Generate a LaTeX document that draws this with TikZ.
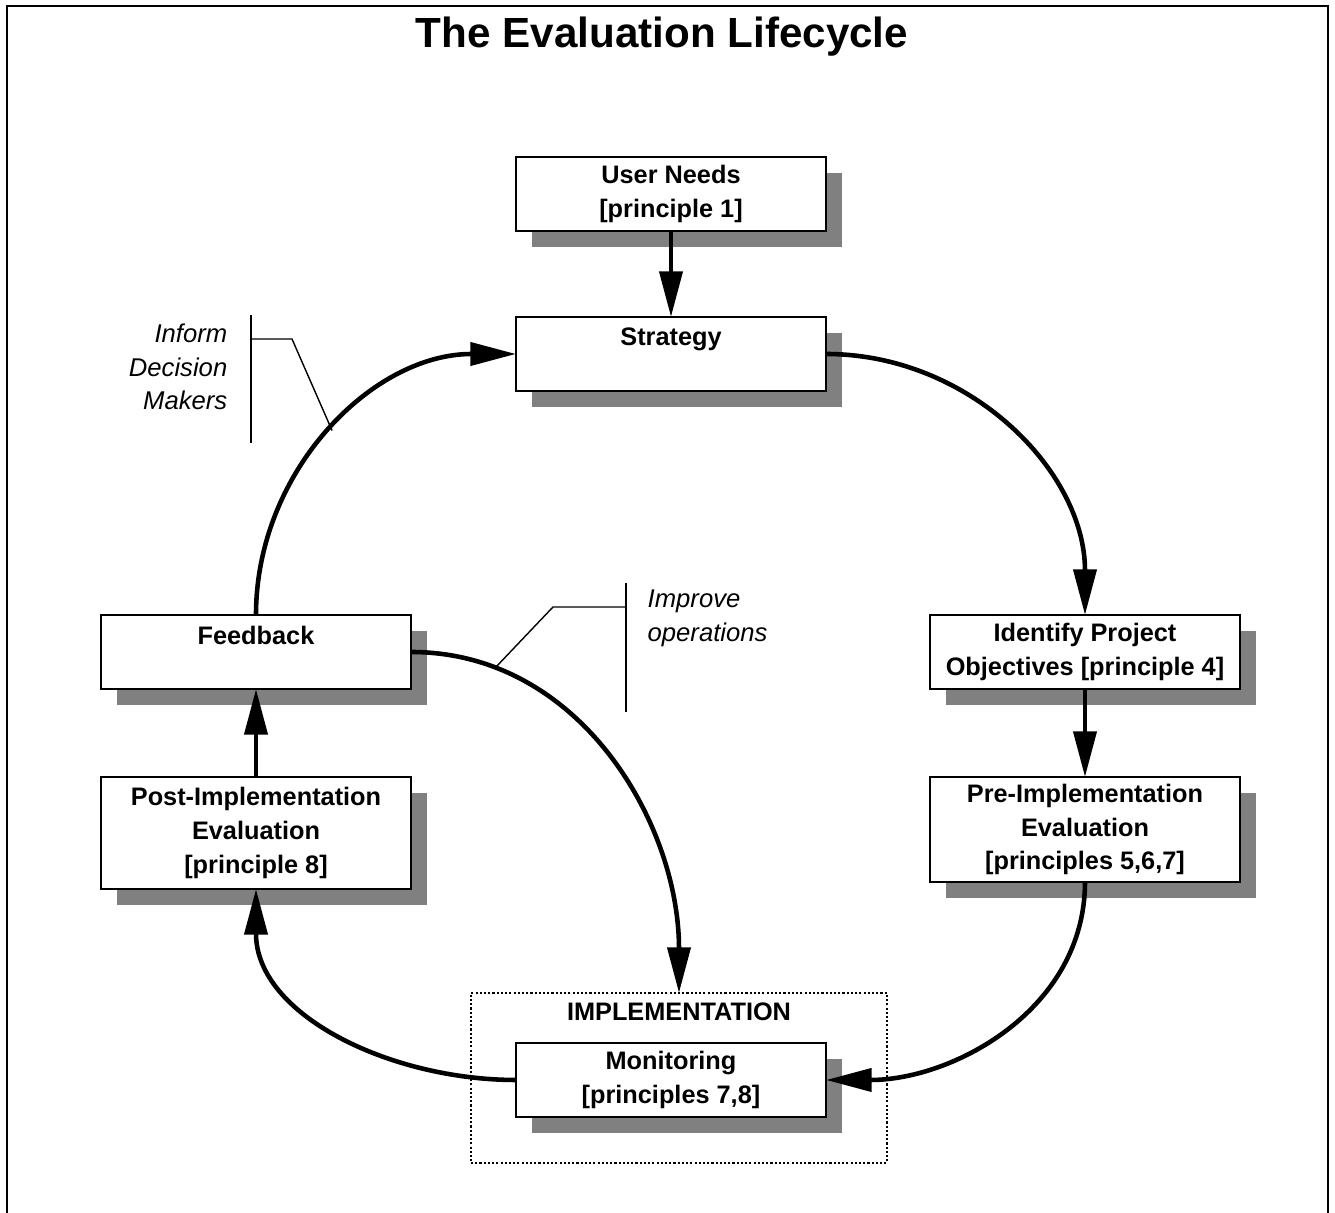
\documentclass[tikz,border=0pt]{standalone}
\usepackage{fontspec}
\setmainfont{Liberation Sans}
\usetikzlibrary{positioning,arrows.meta,shadows}
\definecolor{shadowgray}{RGB}{128,128,128}
\tikzset{
  >={Triangle[length=13pt,width=6.5pt]},
  boxtext/.style={font=\fontsize{7.2}{9.6}\selectfont\bfseries},
  titletext/.style={font=\fontsize{12}{14}\selectfont\bfseries, inner sep=0pt},
}

\begin{document}
\begin{tikzpicture}
      \tikzset{
          stagebox/.style={rectangle, draw=black, line width=0.6pt, fill=white, boxtext, align=center, inner sep=1pt, outer sep=0pt, minimum width=3.1cm, minimum height=0.74cm, drop shadow={shadow xshift=0.16cm, shadow yshift=-0.16cm, fill=shadowgray, opacity=1}},
          groupbox/.style={rectangle, draw=black, line width=0.5pt, dash pattern=on 0.6pt off 0.6pt, outer sep=0pt, minimum width=4.16cm, minimum height=1.70cm},
          note/.style={font=\fontsize{7.3}{9.6}\selectfont\itshape, inner sep=0pt},
          myarrow/.style={draw, line width=1.3pt, ->},
          leader/.style={draw, line width=0.4pt},
      }

      \useasboundingbox (0,0) rectangle (13.35,-12.13);
      \draw[line width=0.8pt] (0.07,-12.13) -- (0.07,-0.06) -- (13.28,-0.06) -- (13.28,-12.13);

      \node[titletext, anchor=base] (Title) at (6.62,-0.48) {The Evaluation Lifecycle};

      \node[stagebox] (Needs) at (6.71,-1.94) {User Needs\\{[principle 1]}};
      \node[stagebox, below=0.86cm of Needs] (Strategy) {Strategy\\\mbox{}};
      \node[stagebox, below right=2.24cm and 1.04cm of Strategy] (Objectives) {Identify Project\\Objectives [principle 4]};
      \node[stagebox, below=0.88cm of Objectives, minimum height=1.05cm] (PreEval) {Pre-Implementation\\Evaluation\\{[principles 5,6,7]}};
      \node[stagebox, below left=2.24cm and 1.05cm of Strategy] (Feedback) {Feedback\\\mbox{}};
      \node[stagebox, below=0.88cm of Feedback, minimum height=1.12cm] (PostEval) {Post-Implementation\\Evaluation\\{[principle 8]}};
      \node[groupbox] (ImplBox) at (6.79,-10.78) {};
      \node[boxtext, inner sep=0pt, below=0.09cm of ImplBox.north] (ImplLabel) {IMPLEMENTATION};
      \node[stagebox, below=6.52cm of Strategy] (Monitoring) {Monitoring\\{[principles 7,8]}};

      \node[note, anchor=east, align=right] (InformText) at (2.28,-3.67) {Inform\\Decision\\Makers};
      \node[note, anchor=west, align=left] (ImproveText) at (6.47,-6.18) {Improve\\operations};

      \path[myarrow] (Needs.south) -- (Strategy.north);
      \path[myarrow] (Strategy.east) to[out=0,in=90] (Objectives.north);
      \path[myarrow] (Objectives.south) -- (PreEval.north);
      \path[myarrow] (PreEval.south) to[out=-90,in=0] (Monitoring.east);
      \path[myarrow] (Monitoring.west) to[out=180,in=-90] (PostEval.south);
      \path[myarrow] (PostEval.north) -- (Feedback.south);
      \path[myarrow] (Feedback.north) to[out=90,in=180] coordinate[pos=0.5] (AuxInform) (Strategy.west);
      \path[myarrow] (Feedback.east) to[out=0,in=90] coordinate[pos=0.18] (AuxImprove) (ImplBox.north);

      % brackets for the notes
      \coordinate (AuxNode01) at (2.51,-3.15);
      \coordinate (AuxNode02) at (2.51,-4.43);
      \coordinate (AuxNode03) at (2.51,-3.39);
      \coordinate (AuxNode04) at (2.92,-3.39);
      \coordinate (AuxNode05) at (6.26,-5.83);
      \coordinate (AuxNode06) at (6.26,-7.12);
      \coordinate (AuxNode07) at (6.26,-6.07);
      \coordinate (AuxNode08) at (5.53,-6.07);

      \path[leader, line width=0.5pt] (AuxNode01) -- (AuxNode02);
      \path[leader] (AuxNode03) -- (AuxNode04) -- (AuxInform);
      \path[leader, line width=0.5pt] (AuxNode05) -- (AuxNode06);
      \path[leader] (AuxNode07) -- (AuxNode08) -- (AuxImprove);

\end{tikzpicture}
\end{document}
